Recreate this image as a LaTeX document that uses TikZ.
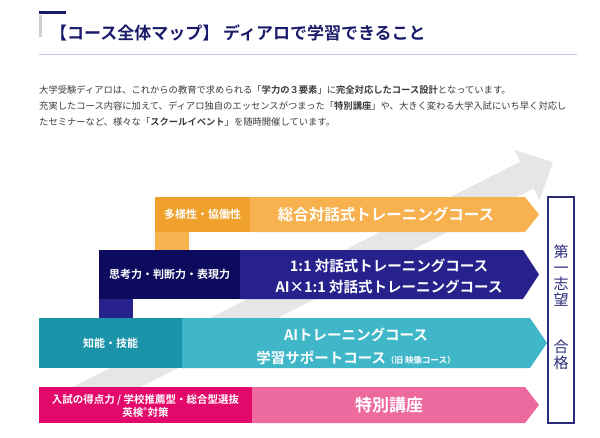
\documentclass[tikz,border=0pt]{standalone}
\usepackage{fontspec}
\setmainfont{Noto Sans CJK JP}[BoldFont={Noto Sans CJK JP Bold}]
\usetikzlibrary{positioning}
\definecolor{titlenavy}{HTML}{1B1B6B}
\definecolor{linegray}{HTML}{C5C5DD}
\definecolor{bargray}{HTML}{CFCFCF}
\definecolor{paratext}{HTML}{3A3A3A}
\definecolor{arrowgray}{HTML}{E6E6E6}
\definecolor{orglbl}{HTML}{EFA12C}
\definecolor{orgmain}{HTML}{F7B24F}
\definecolor{navylbl}{HTML}{0D0B5E}
\definecolor{navymain}{HTML}{27218C}
\definecolor{teallbl}{HTML}{1B93A9}
\definecolor{tealmain}{HTML}{40B7C9}
\definecolor{pinklbl}{HTML}{E2096B}
\definecolor{pinkmain}{HTML}{EC6A9E}
\definecolor{boxnavy}{HTML}{2B2B7B}
\newcommand{\sz}[2][1.2]{\fontsize{#2}{#1\dimexpr #2pt\relax}\selectfont}

\begin{document}
\begin{tikzpicture}[x=1pt,y=-1pt,
    para/.style={anchor=west, inner sep=0, text=paratext, font=\sz{9.3}},
    lbltext/.style={text=white, align=center, inner sep=0, font=\bfseries\sz{11}},
    crstext/.style={text=white, align=center, inner sep=0, font=\bfseries\fontsize{14.5}{22}\selectfont},
    goaltext/.style={text=boxnavy, align=center, inner sep=0, font=\fontsize{15}{16}\selectfont}]
  \useasboundingbox (0,0) rectangle (600,437);
  % title
  \fill[titlenavy] (39,11) rectangle (66,14);
  \fill[bargray] (39,15) rectangle (42,37);
  \node[anchor=west, inner sep=0, text=titlenavy, font=\bfseries\sz{17}] (title) at (50,33) {【コース全体マップ】 ディアロで学習できること};
  \draw[linegray, line width=1pt] (39,54) -- (577,54);
  % intro
  \node[para] (line1) at (39,90) {大学受験ディアロは、これからの教育で求められる「\textbf{学力の３要素}」に\textbf{完全対応したコース設計}となっています。};
  \node[para] (line2) at (39,106) {充実したコース内容に加えて、ディアロ独自のエッセンスがつまった「\textbf{特別講座}」や、大きく変わる大学入試にいち早く対応し};
  \node[para] (line3) at (39,122) {たセミナーなど、様々な「\textbf{スクールイベント}」を随時開催しています。};
  % big gray arrow
  \fill[arrowgray] (47,400) -- (520.3,161.6) -- (514.4,150) -- (553,162) -- (539.6,200) -- (533.7,188.4) -- (115,400) -- cycle;
  % orange
  \fill[orgmain] (155,232) rectangle (189,250);
  \fill[orgmain] (250,197) -- (525,197) -- (539,214.5) -- (525,232) -- (250,232) -- cycle;
  \fill[orglbl] (155,197) rectangle (250,232);
  \node[lbltext] (tayou) at (202.5,214.5) {多様性・協働性};
  \node[crstext, font=\bfseries\sz{15.5}] (sougou) at (386,214.5) {総合対話式トレーニングコース};
  % navy
  \fill[navymain] (99,299) rectangle (133,318);
  \fill[navymain] (240,250) -- (523,250) -- (539,274.5) -- (523,299) -- (240,299) -- cycle;
  \fill[navylbl] (99,250) rectangle (240,299);
  \node[lbltext] (shikou) at (169.5,274.5) {思考力・判断力・表現力};
  \node[crstext, font=\bfseries\fontsize{14.5}{21}\selectfont] (taiwa) at (389,276.5) {1:1 対話式トレーニングコース\\AI×1:1 対話式トレーニングコース};
  % teal
  \fill[tealmain] (182,318) -- (530,318) -- (547,343) -- (530,368) -- (182,368) -- cycle;
  \fill[teallbl] (39,318) rectangle (182,368);
  \node[lbltext] (chinou) at (110.5,343) {知能・技能};
  \node[crstext, font=\bfseries\fontsize{14.5}{23}\selectfont] (aicourse) at (356,346.5) {AIトレーニングコース\\学習サポートコース{\sz{8.5}（旧 映像コース）}};
  % pink
  \fill[pinkmain] (252,387) -- (525,387) -- (539,405) -- (525,423) -- (252,423) -- cycle;
  \fill[pinklbl] (39,387) rectangle (252,423);
  \node[lbltext, font=\bfseries\fontsize{10.5}{13}\selectfont] (tokuten) at (145.5,406.5) {入試の得点力 / 学校推薦型・総合型選抜\\英検\textsuperscript{®}対策};
  \node[crstext, font=\bfseries\sz{17}] (tokubetsu) at (389,405) {特別講座};
  % goal box
  \node[draw=boxnavy, line width=1.2pt, minimum width=26, minimum height=226, inner sep=0] (goal) at (561,310) {};
  \node[goaltext] (daiichi) at (561,276) {第\\一\\志\\望};
  \node[goaltext] (goukaku) at (561,355) {合\\格};
\end{tikzpicture}
\end{document}
